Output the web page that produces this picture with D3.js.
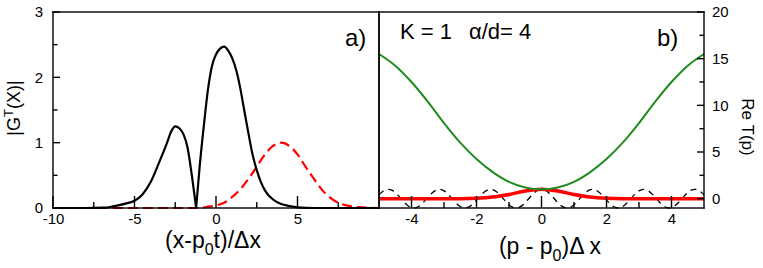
<!DOCTYPE html>
<html>
<head>
<meta charset="utf-8">
<script src="https://cdn.jsdelivr.net/npm/d3@7"></script>
<style>
  body { margin: 0; background: #fff; }
  svg { display: block; font-family: "Liberation Sans", Arial, Helvetica, sans-serif; }
  .tick text { font-size: 15px; fill: #000; }
</style>
</head>
<body>
<svg id="chart" width="763" height="268"></svg>
<script>
// panel a) |G^T(x)|, black curve split at the zero near x = -1.22
var gLeftX = [-10, -8, -7, -6.5, -6, -5.5, -5, -4.5, -4, -3.5, -3, -2.75, -2.5, -2.25, -2, -1.75, -1.5, -1.22];
var gLeftY = [0, 0, 0.005, 0.015, 0.04, 0.07, 0.11, 0.21, 0.4, 0.69, 1.0, 1.17, 1.25, 1.22, 1.13, 0.93, 0.53, 0];
var gRightX = [-1.22, -1, -0.75, -0.5, -0.25, 0, 0.25, 0.5, 0.75, 1, 1.25, 1.5, 1.75, 2, 2.25, 2.5, 2.75, 3, 3.5, 4, 4.5, 5, 6, 10];
var gRightY = [0, 0.64, 1.25, 1.8, 2.17, 2.35, 2.44, 2.47, 2.41, 2.29, 2.1, 1.82, 1.47, 1.13, 0.81, 0.58, 0.4, 0.27, 0.13, 0.06, 0.03, 0.01, 0, 0];

// free packet (red dashed)
var freeX = [-10, -1, -0.5, 0, 0.5, 1, 1.5, 2, 2.5, 3, 3.5, 4, 4.5, 5, 5.5, 6, 6.5, 7, 7.5, 8, 8.5, 9, 10];
var freeY = [0, 0, 0.02, 0.04, 0.08, 0.17, 0.29, 0.45, 0.63, 0.82, 0.95, 1.0, 0.95, 0.82, 0.63, 0.45, 0.28, 0.16, 0.08, 0.04, 0.02, 0.01, 0];

// panel b) Re T(p)
var pX = [-5, -4.5, -4, -3.5, -3, -2.5, -2, -1.5, -1, -0.5, 0, 0.5, 1, 1.5, 2, 2.5, 3, 3.5, 4, 4.5, 5];
var greenY = [15.5, 14.25, 12.5, 10.4, 8.1, 6.0, 4.25, 2.85, 1.8, 1.2, 1.0, 1.2, 1.8, 2.85, 4.25, 6.0, 8.1, 10.4, 12.5, 14.25, 15.5];
var redY = [0, 0, 0, 0, 0, 0, 0.04, 0.17, 0.45, 0.82, 1.02, 0.82, 0.45, 0.17, 0.04, 0, 0, 0, 0, 0, 0];

// black dashed, sampled every 0.125 in p
var dashX = d3.range(81).map(function(i) { return -5 + i * 0.125; });
var dashY = [0.41, 0.80, 0.99, 0.94, 0.66, 0.22, -0.28, -0.70, -0.96, -0.98, -0.76, -0.36, 0.14, 0.59, 0.91, 1.0, 0.84, 0.48, 0, -0.48, -0.84,
  -1.0, -0.91, -0.60, -0.15, 0.35, 0.75, 0.98, 0.96, 0.71, 0.28, -0.21, -0.65, -0.94, -0.99, -0.80, -0.42, 0.07, 0.54, 0.88,
  1.0,
  0.88, 0.54, 0.07, -0.42, -0.80, -0.99, -0.94, -0.65, -0.21, 0.28, 0.71, 0.96, 0.98, 0.75, 0.35, -0.15, -0.60, -0.91, -1.0,
  -0.84, -0.48, 0, 0.48, 0.84, 1.0, 0.91, 0.59, 0.14, -0.36, -0.76, -0.98, -0.96, -0.70, -0.28, 0.22, 0.66, 0.94, 0.99, 0.80, 0.41];

// tick positions
var ticksLx = [-10, -5, 0, 5], minorLx = [-7.5, -2.5, 2.5, 7.5];
var ticksLy = [0, 1, 2, 3], minorLy = [0.5, 1.5, 2.5];
var ticksRx = [-4, -2, 0, 2, 4], minorRx = [-3, -1, 1, 3];
var ticksRy = [0, 5, 10, 15, 20], minorRy = [2.5, 7.5, 12.5, 17.5];

var svg = d3.select('#chart');

// panel boxes
var L = { x0: 53, x1: 379, y0: 12, y1: 208 };
var R = { x0: 379, x1: 704, y0: 12, y1: 208 };
var LW = 1.4; // line width of frame and ticks

var xL = d3.scaleLinear().domain([-10, 10]).range([L.x0, L.x1]);
var yL = d3.scaleLinear().domain([0, 3]).range([L.y1, L.y0]);
var xR = d3.scaleLinear().domain([-5, 5]).range([R.x0, R.x1]);
var yR = d3.scaleLinear().domain([-1, 20]).range([R.y1, R.y0]);

function zip(xs, ys) { return xs.map(function(x, i) { return [x, ys[i]]; }); }

// ---- tick labels through d3 axes (no tick lines, drawn below as bars)
function labels(gen, tx, ty, vals, pad) {
  var g = svg.append('g').attr('transform', 'translate(' + tx + ',' + ty + ')')
    .call(gen.tickValues(vals).tickSize(0).tickPadding(pad).tickFormat(function(d) { return String(d); }));
  g.select('.domain').remove();
  g.selectAll('.tick line').remove();
}
labels(d3.axisBottom(xL), 0, L.y1, ticksLx, 5);
labels(d3.axisLeft(yL), L.x0, 0, ticksLy, 10);
labels(d3.axisBottom(xR), 0, R.y1, ticksRx, 5);
labels(d3.axisRight(yR), R.x1, 0, ticksRy, 8);

// ---- left panel curves
var lineL = d3.line().x(function(d) { return xL(d[0]); }).y(function(d) { return yL(d[1]); }).curve(d3.curveMonotoneX);

svg.append('path').datum(zip(freeX, freeY))
  .attr('d', lineL).attr('fill', 'none').attr('stroke', '#ff0000')
  .attr('stroke-width', 2.2).attr('stroke-dasharray', '10,5');

[zip(gLeftX, gLeftY), zip(gRightX, gRightY)].forEach(function(seg) {
  svg.append('path').datum(seg)
    .attr('d', lineL).attr('fill', 'none').attr('stroke', '#000')
    .attr('stroke-width', 2.2).attr('stroke-linejoin', 'round');
});

// ---- right panel curves
var lineR = d3.line().x(function(d) { return xR(d[0]); }).y(function(d) { return yR(d[1]); });

svg.append('path').datum(zip(dashX, dashY))
  .attr('d', lineR.curve(d3.curveCatmullRom)).attr('fill', 'none').attr('stroke', '#000')
  .attr('stroke-width', 1.3).attr('stroke-dasharray', '6,5');

svg.append('path').datum(zip(pX, redY))
  .attr('d', lineR.curve(d3.curveMonotoneX)).attr('fill', 'none').attr('stroke', '#ff0000')
  .attr('stroke-width', 3.5);

svg.append('path').datum(zip(pX, greenY))
  .attr('d', lineR.curve(d3.curveCatmullRom)).attr('fill', 'none').attr('stroke', '#1e8c1e')
  .attr('stroke-width', 2);

// ---- frames and ticks as filled bars
var bars = svg.append('g').attr('fill', '#000');

[L, R].forEach(function(b) {
  bars.append('rect').attr('x', b.x0 - LW / 2).attr('y', b.y0 - LW / 2).attr('width', b.x1 - b.x0 + LW).attr('height', LW);
  bars.append('rect').attr('x', b.x0 - LW / 2).attr('y', b.y1 - LW / 2).attr('width', b.x1 - b.x0 + LW).attr('height', LW);
  bars.append('rect').attr('x', b.x0 - LW / 2).attr('y', b.y0 - LW / 2).attr('width', LW).attr('height', b.y1 - b.y0 + LW);
  bars.append('rect').attr('x', b.x1 - LW / 2).attr('y', b.y0 - LW / 2).attr('width', LW).attr('height', b.y1 - b.y0 + LW);
});

function vTicks(scale, vals, yBase, len) {
  bars.selectAll(null).data(vals).enter().append('rect')
    .attr('x', function(d) { return scale(d) - LW / 2; })
    .attr('y', yBase - len).attr('width', LW).attr('height', len);
}
function hTicks(scale, vals, x, len) {
  bars.selectAll(null).data(vals).enter().append('rect')
    .attr('x', x).attr('y', function(d) { return scale(d) - LW / 2; })
    .attr('width', len).attr('height', LW);
}

vTicks(xL, ticksLx, L.y1, 12);
vTicks(xL, minorLx, L.y1, 6);
hTicks(yL, ticksLy, L.x0, 7);
hTicks(yL, minorLy, L.x0, 4.5);

vTicks(xR, ticksRx, R.y1, 12);
vTicks(xR, minorRx, R.y1, 6);
hTicks(yR, ticksRy, R.x1 - 7, 7);
hTicks(yR, minorRy, R.x1 - 4.5, 4.5);

// ---- labels
var yLab = svg.append('text').attr('transform', 'translate(20,108) rotate(-90)')
  .attr('text-anchor', 'middle').attr('font-size', 18);
yLab.append('tspan').text('|G');
yLab.append('tspan').attr('font-size', 13).attr('dy', -7).text('T');
yLab.append('tspan').attr('dy', 7).text('(X)|');

svg.append('text').attr('transform', 'translate(742,127) rotate(90)')
  .attr('text-anchor', 'middle').attr('font-size', 17).text('Re T(p)');

var xLab = svg.append('text').attr('x', 213).attr('y', 248).attr('text-anchor', 'middle').attr('font-size', 23);
xLab.append('tspan').text('(x-p');
xLab.append('tspan').attr('font-size', 16).attr('dy', 7).text('0');
xLab.append('tspan').attr('dy', -7).text('t)/Δx');

var xLab2 = svg.append('text').attr('x', 550).attr('y', 254).attr('text-anchor', 'middle').attr('font-size', 23);
xLab2.append('tspan').text('(p - p');
xLab2.append('tspan').attr('font-size', 16).attr('dy', 7).text('0');
xLab2.append('tspan').attr('dy', -7).text(')Δ x');

svg.append('text').attr('x', 345).attr('y', 46).attr('font-size', 24).text('a)');
svg.append('text').attr('x', 657).attr('y', 46).attr('font-size', 24).text('b)');
svg.append('text').attr('x', 400).attr('y', 39).attr('font-size', 22).text('K = 1');
svg.append('text').attr('x', 469).attr('y', 39).attr('font-size', 22).text('α/d= 4');
</script>
</body>
</html>
